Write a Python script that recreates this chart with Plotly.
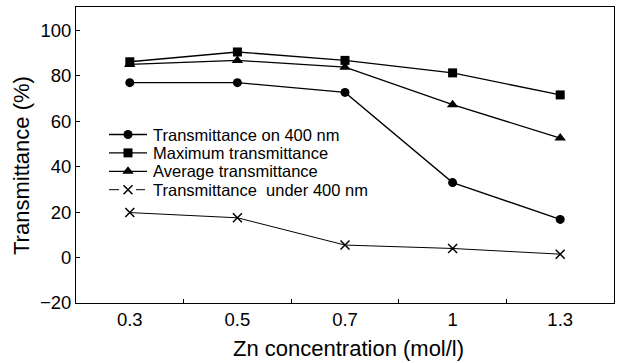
import plotly.graph_objects as go

# Zn concentration categories (mol/l)
zn_conc = ["0.3", "0.5", "0.7", "1", "1.3"]

# Transmittance values (%)
t_on_400 = [77, 77, 72.7, 33, 16.8]
t_max = [86.2, 90.5, 86.8, 81.3, 71.6]
t_avg = [85, 86.8, 83.8, 67.3, 52.6]
t_under_400 = [19.8, 17.5, 5.5, 4, 1.5]

y_ticks = [-20, 0, 20, 40, 60, 80, 100]

font_family = "Liberation Sans, Arial, sans-serif"

# figure / plot-area geometry in pixels
W, H = 624, 363
M_L, M_R, M_T, M_B = 76, 10, 7, 60
PW, PH = W - M_L - M_R, H - M_T - M_B

series = [
    ("Transmittance on 400 nm", t_on_400,
     dict(symbol="circle", size=9), 1.3),
    ("Maximum transmittance", t_max,
     dict(symbol="square", size=9), 1.3),
    ("Average transmittance", t_avg,
     dict(symbol="triangle-up", size=10), 1.3),
    ("Transmittance  under 400 nm", t_under_400,
     dict(symbol="x-thin-open", size=9, line=dict(width=1.5, color="black")), 1.0),
]

fig = go.Figure()
for name, vals, marker, lw in series:
    fig.add_trace(go.Scatter(
        x=zn_conc, y=vals, name=name, mode="lines+markers",
        line=dict(color="black", width=lw),
        marker=dict(color="black", **marker),
        showlegend=False,
    ))


# hand-built legend drawn on an overlay axis spanning the plot area (paper units)
def px_x(px):
    return (px - M_L) / PW


def px_y(py):
    return (H - M_B - py) / PH


LEG_LINE_X0, LEG_LINE_X1, LEG_MARK_X, LEG_TEXT_X = 109, 147, 128, 151
LEG_ROW0, LEG_ROW_STEP = 134.5, 18.4

for i, (name, vals, marker, lw) in enumerate(series):
    row_y = px_y(LEG_ROW0 + i * LEG_ROW_STEP)
    if "under" in name:
        # dashed-looking sample: two short strokes either side of the cross
        segs = [(109, 119), (136, 145)]
    else:
        segs = [(LEG_LINE_X0, LEG_LINE_X1)]
    for a, b in segs:
        fig.add_trace(go.Scatter(
            x=[px_x(a), px_x(b)], y=[row_y, row_y], mode="lines",
            line=dict(color="black", width=lw), xaxis="x2", yaxis="y2",
            showlegend=False, hoverinfo="skip",
        ))
    fig.add_trace(go.Scatter(
        x=[px_x(LEG_MARK_X)], y=[row_y], mode="markers",
        marker=dict(color="black", **marker), xaxis="x2", yaxis="y2",
        showlegend=False, hoverinfo="skip",
    ))
    fig.add_annotation(
        x=px_x(LEG_TEXT_X), y=row_y, xref="paper", yref="paper",
        text=name.replace("  ", "&nbsp; "), showarrow=False,
        xanchor="left", yanchor="middle",
        font=dict(size=16.5, family=font_family, color="black"),
    )

# axis titles placed as annotations
fig.add_annotation(
    x=px_x(21), y=px_y(166), xref="paper", yref="paper",
    text="Transmittance (%)", textangle=-90, showarrow=False,
    xanchor="center", yanchor="middle",
    font=dict(size=22, family=font_family, color="black"),
)
fig.add_annotation(
    x=px_x(348), y=px_y(348), xref="paper", yref="paper",
    text="Zn concentration (mol/l)", showarrow=False,
    xanchor="center", yanchor="middle",
    font=dict(size=22, family=font_family, color="black"),
)

fig.update_layout(
    width=W, height=H,
    margin=dict(l=M_L, r=M_R, t=M_T, b=M_B, autoexpand=False),
    paper_bgcolor="white", plot_bgcolor="white",
    font=dict(family=font_family, color="black", size=15),
    showlegend=False,
    xaxis=dict(
        type="category", range=[-0.5, 4.5], automargin=False,
        tickson="boundaries", ticks="inside", ticklen=4, tickcolor="black",
        showline=True, mirror=True, linecolor="black", linewidth=1,
        showgrid=False, zeroline=False,
        tickfont=dict(size=18.5),
    ),
    yaxis=dict(
        range=[-20, 110.3], tickvals=y_ticks, automargin=False,
        ticks="inside", ticklen=4, tickcolor="black",
        showline=True, mirror=True, linecolor="black", linewidth=1,
        showgrid=False, zeroline=False,
        tickfont=dict(size=18.5),
    ),
    xaxis2=dict(overlaying="x", range=[0, 1], visible=False, fixedrange=True),
    yaxis2=dict(overlaying="y", range=[0, 1], visible=False, fixedrange=True),
)

fig.write_html("out.html")
